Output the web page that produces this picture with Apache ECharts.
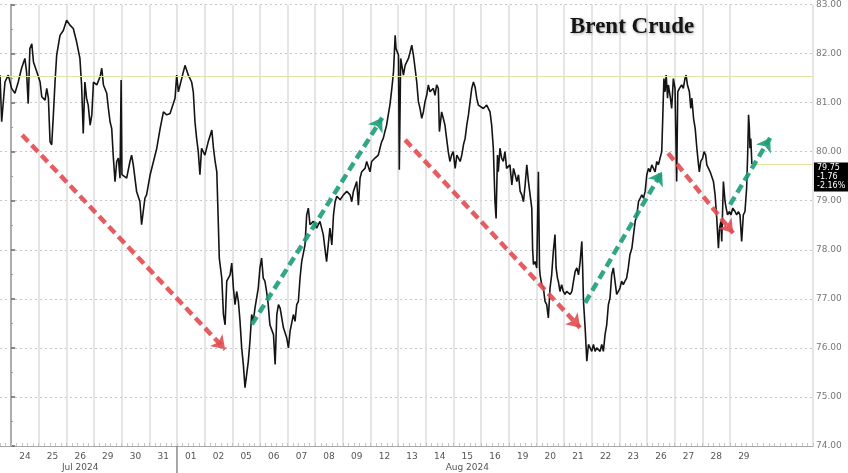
<!DOCTYPE html>
<html><head><meta charset="utf-8">
<script src="https://cdn.jsdelivr.net/npm/echarts@6/dist/echarts.min.js"></script>
<style>html,body{margin:0;padding:0;background:#fff}#c{width:848px;height:473px}</style>
</head><body><div id="c"></div>
<script>
// ---- tick labels ----
const dayLabels = ['24','25','26','29','30','31','01','02','05','06','07','08','09','12','13','14','15','16','19','20','21','22','23','26','27','28','29'];
const monthLabels = ['Jul 2024','Aug 2024'];
const monthLabelDays = [2, 16];      // day index under which the month label sits
const monthBreakDay = 6;             // first trading day of August
const priceMin = 74, priceMax = 83, priceStep = 1;

// ---- Brent price (x = trading-day index, 0 = Jul 24; y = USD) ----
const brentJul24to31 = [[-0.40,81.56],[-0.34,80.61],[-0.22,81.42],[-0.10,81.56],[0.02,81.29],[0.14,81.19],[0.26,81.42],[0.38,81.70],[0.50,81.90],[0.56,81.63],[0.62,80.98],[0.68,82.10],[0.75,82.20],[0.81,81.83],[0.93,81.63],[1.05,81.42],[1.11,81.12],[1.23,81.05],[1.29,81.29],[1.35,81.09],[1.41,80.20],[1.47,80.14],[1.53,80.75],[1.59,81.42],[1.65,81.97],[1.77,82.37],[1.89,82.47],[2.01,82.68],[2.13,82.58],[2.25,82.51],[2.37,82.24],[2.49,81.90],[2.55,81.36],[2.61,80.37],[2.67,81.42],[2.73,81.09],[2.79,80.95],[2.86,80.54],[2.92,80.75],[2.98,81.42],[3.10,81.36],[3.22,81.53],[3.28,81.70],[3.34,81.36],[3.46,81.19],[3.52,80.88],[3.58,80.61],[3.64,80.47],[3.70,79.87],[3.76,79.39],[3.82,79.80],[3.88,79.87],[3.94,79.46],[3.98,81.46],[4.01,79.53],[4.18,79.46],[4.30,79.80],[4.36,79.93],[4.42,79.73],[4.54,79.19],[4.66,78.98],[4.72,78.51],[4.78,78.78],[4.84,79.05],[4.90,79.12],[5.03,79.53],[5.15,79.80],[5.27,80.07],[5.39,80.47],[5.51,80.81],[5.63,80.75],[5.75,80.78],[5.93,81.09]];
const brentAug01to09 = [[5.99,81.56],[6.05,81.22],[6.17,81.49],[6.29,81.76],[6.41,81.56],[6.53,81.42],[6.59,81.22],[6.65,80.61],[6.71,80.27],[6.77,80.00],[6.83,79.53],[6.89,80.07],[7.01,79.93],[7.13,80.20],[7.26,80.44],[7.32,80.07],[7.38,79.80],[7.44,79.59],[7.50,78.44],[7.53,77.83],[7.62,77.42],[7.68,76.68],[7.74,76.47],[7.80,77.36],[7.92,77.49],[7.98,77.73],[8.04,77.22],[8.10,76.88],[8.16,77.15],[8.22,76.95],[8.28,76.54],[8.34,76.00],[8.40,75.66],[8.46,75.19],[8.52,75.46],[8.58,75.73],[8.64,76.14],[8.70,76.68],[8.76,76.54],[8.82,76.81],[8.94,77.22],[9.00,77.63],[9.06,77.83],[9.12,77.42],[9.18,77.36],[9.24,77.15],[9.30,76.88],[9.36,76.47],[9.49,76.27],[9.55,75.66],[9.61,76.68],[9.67,76.88],[9.73,76.81],[9.85,76.41],[9.97,76.20],[10.03,76.00],[10.09,76.34],[10.21,76.68],[10.27,76.54],[10.33,76.88],[10.39,76.95],[10.45,77.42],[10.51,77.76],[10.63,78.10],[10.69,78.71],[10.75,78.85],[10.81,78.51],[10.93,78.58],[11.05,78.44]];
const brentAug12to21 = [[11.17,78.58],[11.29,78.31],[11.35,78.03],[11.41,77.76],[11.47,78.10],[11.53,78.44],[11.60,78.10],[11.66,78.71],[11.72,78.98],[11.78,79.09],[11.90,79.02],[11.96,78.98],[12.02,79.12],[12.14,79.19],[12.26,79.12],[12.32,78.98],[12.38,79.19],[12.50,79.39],[12.56,78.91],[12.62,79.46],[12.68,79.59],[12.80,79.66],[12.86,79.80],[12.98,79.59],[13.04,79.80],[13.16,79.87],[13.28,79.93],[13.34,80.07],[13.40,80.20],[13.46,80.27],[13.52,80.41],[13.58,80.54],[13.64,80.75],[13.70,80.95],[13.77,81.29],[13.83,81.63],[13.89,82.37],[13.92,82.10],[14.01,81.97],[14.04,79.63],[14.09,81.90],[14.19,81.56],[14.25,81.76],[14.31,81.83],[14.37,81.90],[14.43,82.03],[14.49,82.17],[14.55,81.97],[14.61,81.70],[14.67,81.42],[14.73,81.02],[14.79,80.88],[14.85,80.68],[14.91,80.81],[14.97,81.02],[15.03,81.15],[15.09,81.36],[15.15,81.22],[15.27,81.29],[15.33,81.15],[15.39,81.36],[15.45,81.29],[15.49,80.41],[15.57,80.81],[15.63,80.68],[15.69,80.54],[15.75,80.27],[15.81,80.00],[15.87,79.80],[15.93,79.93],[15.99,80.00],[16.06,79.66],[16.12,79.93],[16.18,79.87],[16.24,79.80],[16.30,79.93],[16.36,80.14],[16.42,80.27],[16.48,80.54],[16.54,80.75],[16.60,81.02],[16.66,81.29],[16.72,81.42],[16.78,81.32],[16.84,81.09],[16.90,80.95],[16.96,80.95],[17.08,80.88],[17.20,80.95],[17.32,80.81],[17.38,80.54],[17.44,80.07],[17.50,78.98],[17.54,78.64],[17.59,79.93],[17.62,79.59],[17.68,80.07],[17.74,79.87],[17.80,79.80],[17.86,80.00],[17.92,79.66],[18.04,79.73],[18.11,79.32],[18.17,79.66],[18.23,79.53],[18.29,79.39],[18.35,79.53],[18.41,79.19],[18.47,79.12],[18.53,78.98],[18.59,79.32],[18.65,79.73],[18.71,79.39],[18.77,79.12],[18.83,78.85],[18.86,78.03],[18.89,77.70],[18.95,77.76],[19.01,77.63],[19.07,79.59],[19.11,77.63],[19.13,77.49],[19.19,77.29],[19.25,77.22],[19.31,76.95],[19.37,76.88],[19.43,76.61],[19.49,77.22],[19.55,77.49],[19.61,77.97],[19.67,78.31],[19.71,77.63],[19.76,77.42],[19.79,77.36],[19.85,77.15],[19.91,77.29],[19.97,77.15],[20.03,77.09],[20.09,77.15],[20.22,77.09],[20.28,77.15],[20.34,77.36],[20.40,77.56],[20.46,77.63],[20.52,77.49],[20.58,77.76],[20.64,78.17],[20.67,77.63]];
const brentAug22to29 = [[20.70,76.95],[20.76,76.41],[20.82,75.73],[20.88,76.07],[20.94,76.00],[21.00,75.93],[21.06,76.07],[21.12,75.93],[21.18,76.00],[21.30,75.93],[21.36,76.07],[21.42,75.93],[21.48,76.27],[21.54,76.47],[21.60,76.88],[21.66,77.02],[21.72,77.49],[21.78,77.63],[21.84,77.36],[21.90,77.09],[21.96,77.15],[22.02,77.22],[22.08,77.36],[22.14,77.29],[22.20,77.36],[22.26,77.42],[22.32,77.63],[22.38,77.90],[22.45,78.03],[22.51,78.31],[22.57,78.58],[22.63,78.71],[22.69,78.98],[22.75,79.05],[22.81,79.12],[22.87,79.05],[22.93,79.19],[22.99,79.53],[23.05,79.66],[23.11,79.59],[23.17,79.73],[23.23,79.66],[23.29,79.59],[23.35,79.80],[23.41,79.73],[23.47,79.87],[23.53,80.00],[23.57,80.75],[23.59,81.15],[23.61,81.49],[23.65,81.22],[23.69,81.56],[23.74,81.09],[23.77,81.36],[23.83,81.15],[23.89,80.88],[23.95,81.49],[24.01,81.29],[24.07,79.39],[24.11,81.22],[24.17,81.29],[24.25,81.36],[24.31,81.29],[24.37,81.49],[24.41,81.56],[24.46,81.36],[24.53,81.22],[24.58,80.88],[24.62,81.09],[24.68,80.68],[24.74,80.47],[24.80,80.07],[24.86,79.73],[24.89,79.59],[24.94,79.80],[25.01,79.87],[25.06,80.00],[25.12,79.93],[25.16,79.73],[25.22,79.66],[25.28,79.59],[25.34,79.59],[25.40,79.39],[25.46,79.12],[25.52,78.64],[25.58,78.03],[25.62,78.44],[25.67,78.58],[25.70,78.17],[25.76,79.39],[25.82,78.98],[25.86,78.85],[25.91,78.71],[25.98,78.78],[26.03,78.71],[26.10,78.85],[26.18,78.78],[26.24,78.71],[26.30,78.78],[26.36,78.71],[26.42,78.17],[26.48,78.71],[26.54,78.78],[26.60,79.26],[26.64,80.00],[26.67,80.75],[26.70,80.47],[26.72,80.07],[26.75,80.27],[26.79,79.75]];

const lastPrice = 79.75, lastChange = '-1.76', lastPct = '-2.16%';
const resistanceLevel = 81.53;

// ---- trend arrows (start, end) in data coordinates ----
const redArrows = [[[0.40,80.34],[7.74,75.97]], [[14.25,80.24],[20.58,76.41]], [[23.76,79.97],[26.11,78.34]]];
const greenArrows = [[[8.71,76.48],[13.42,80.69]], [[20.76,76.92],[23.54,79.59]], [[26.00,78.92],[27.45,80.28]]];

// ---- build ----
const SLOTS = 5, LEAD = 2;                // sub-day slots, slots before first day
const xMin = -LEAD / SLOTS, xMax = 29;
const nSlots = Math.round((xMax - xMin) * SLOTS);
const slots = Array.from({length: nSlots}, (_, i) => 's' + i);
const centerIdx = k => SLOTS * k + LEAD + Math.floor(SLOTS / 2);
const isCenter = i => { const k = (i - LEAD - Math.floor(SLOTS/2)) / SLOTS; return Number.isInteger(k) && k >= 0 && k < dayLabels.length; };
const isStart = i => { const k = (i - LEAD) / SLOTS; return Number.isInteger(k) && k >= 0 && k < dayLabels.length; };

const brent = [].concat(brentJul24to31, brentAug01to09, brentAug12to21, brentAug22to29);
const lastX = brent[brent.length - 1][0];

const arrowLines = arr => arr.map(a => [{coord: a[0]}, {coord: a[1]}]);

const chart = echarts.init(document.getElementById('c'), null, {renderer: 'canvas'});
chart.setOption({
  animation: false,
  backgroundColor: '#ffffff',
  title: {
    text: 'Brent Crude', left: 570, top: 16, padding: 0,
    textStyle: {fontFamily: 'Liberation Serif', fontWeight: 'bold', fontSize: 23, color: '#151515',
      textShadowColor: 'rgba(0,0,0,0.35)', textShadowBlur: 3, textShadowOffsetX: 1, textShadowOffsetY: 1}
  },
  grid: {left: 0, right: 35, top: 4, bottom: 27, containLabel: false},
  xAxis: [
    {
      type: 'category', data: slots, boundaryGap: true, position: 'bottom',
      axisLine: {show: true, lineStyle: {color: '#a8a8a8', width: 1}},
      axisTick: {show: true, inside: true, length: 3, interval: 0, lineStyle: {color: '#c4c4c4'}},
      axisLabel: {
        interval: (i) => isCenter(i),
        formatter: (v, i) => dayLabels[(i - LEAD - Math.floor(SLOTS/2)) / SLOTS],
        color: '#555', fontSize: 9, fontFamily: 'DejaVu Sans', margin: 6
      },
      splitLine: {show: true, interval: (i) => isStart(i), lineStyle: {color: '#dcdcdc', width: 1.5, type: 'solid'}}
    },
    {
      type: 'category', data: slots, boundaryGap: true, position: 'bottom',
      axisLine: {show: false},
      axisTick: {show: false},
      axisLabel: {
        interval: (i) => monthLabelDays.some(d => centerIdx(d) === i),
        formatter: (v, i) => monthLabels[monthLabelDays.findIndex(d => centerIdx(d) === i)],
        color: '#555', fontSize: 9, fontFamily: 'DejaVu Sans', margin: 17
      },
      splitLine: {show: false}
    },
    {type: 'value', min: xMin, max: xMax, show: false}
  ],
  yAxis: {
    type: 'value', position: 'right', min: priceMin, max: priceMax, interval: priceStep,
    axisLine: {show: true, lineStyle: {color: '#9a9a9a', width: 1.5}},
    axisTick: {show: true, inside: false, length: 4, lineStyle: {color: '#666', width: 1.5}},
    minorTick: {show: true, splitNumber: 2, length: 2, lineStyle: {color: '#999'}},
    axisLabel: {formatter: v => v.toFixed(2), color: '#777', fontSize: 9, fontFamily: 'DejaVu Sans', margin: 3},
    splitLine: {show: true, lineStyle: {color: '#c6c6c6', type: [2, 3], width: 1}}
  },
  series: [
    {
      name: 'Brent', type: 'line', xAxisIndex: 2, data: brent, showSymbol: false, clip: false,
      lineStyle: {color: '#141414', width: 1.6}, z: 3,
      markLine: {
        silent: true, symbol: 'none', label: {show: false}, animation: false,
        data: [
          {yAxis: resistanceLevel, lineStyle: {color: '#dde5a2', width: 1.2, type: 'solid'}},
          [{coord: [lastX, lastPrice], lineStyle: {color: '#e6e2a0', width: 1.2, type: 'solid'}}, {coord: [xMax, lastPrice]}]
        ]
      },
      markPoint: {
        silent: true, animation: false, symbol: 'rect', symbolSize: 0,
        data: [{coord: [xMax, lastPrice]}],
        label: {
          show: true, position: 'right', distance: 1, offset: [0, 13],
          formatter: [lastPrice.toFixed(2), lastChange, lastPct].join('\n'),
          color: '#fff', backgroundColor: '#000', fontSize: 8, lineHeight: 9,
          fontFamily: 'DejaVu Sans', padding: [1, 3, 1, 3], align: 'left'
        }
      }
    },
    {
      name: 'down', type: 'line', xAxisIndex: 2, data: [], z: 4,
      markLine: {
        silent: true, animation: false, symbol: ['none', 'arrow'], symbolSize: 13, label: {show: false},
        lineStyle: {color: '#e24b50', width: 4.5, type: [9, 5], opacity: 0.9},
        data: arrowLines(redArrows)
      }
    },
    {
      name: 'up', type: 'line', xAxisIndex: 2, data: [], z: 4,
      markLine: {
        silent: true, animation: false, symbol: ['none', 'arrow'], symbolSize: 13, label: {show: false},
        lineStyle: {color: '#1c9d78', width: 4.5, type: [9, 5], opacity: 0.9},
        data: arrowLines(greenArrows)
      }
    }
  ]
});

// month separator below the axis, placed through the axis scale
const sepX = chart.convertToPixel({xAxisIndex: 2}, monthBreakDay);
const axisY = chart.convertToPixel({yAxisIndex: 0}, priceMin);
chart.setOption({
  graphic: [{
    type: 'line', silent: true, z: 10,
    shape: {x1: sepX, y1: axisY, x2: sepX, y2: axisY + 28},
    style: {stroke: '#8a8a8a', lineWidth: 1.5}
  }]
});
</script>
</body></html>
